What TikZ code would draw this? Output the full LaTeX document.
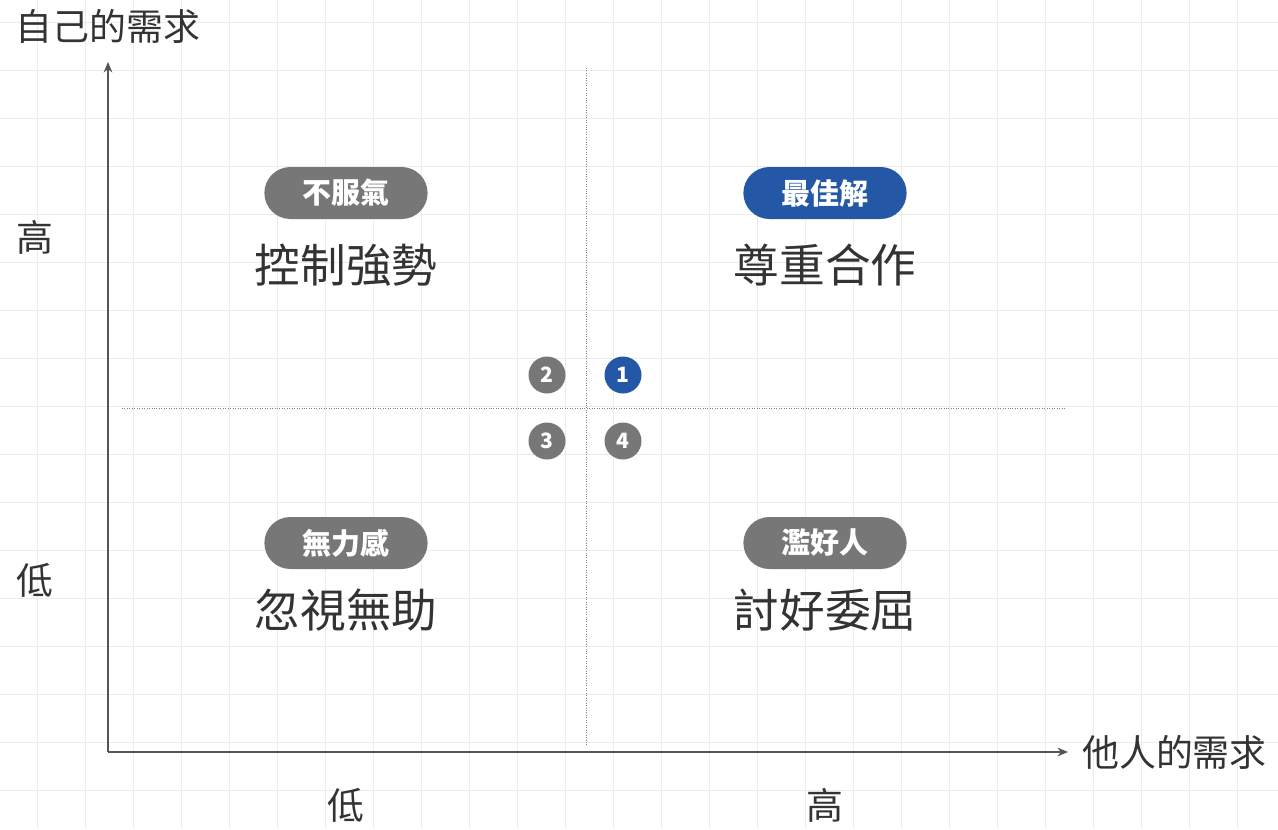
\documentclass[tikz,border=0pt]{standalone}
\usepackage{fontspec}
\setmainfont{Noto Sans CJK TC}
\usetikzlibrary{arrows.meta,shapes.misc}
\definecolor{gridgray}{HTML}{ECECEC}
\definecolor{axisgray}{HTML}{555555}
\definecolor{inkgray}{HTML}{333333}
\definecolor{badgegray}{HTML}{777777}
\definecolor{badgeblue}{HTML}{2457A5}
\tikzset{
  badge/.style={rounded rectangle,fill=badgegray,text=white,minimum width=3.5cm,minimum height=1.04cm,font=\fontsize{16.5}{16.5}\selectfont\bfseries},
  quadtext/.style={text=inkgray,font=\fontsize{26}{26}\selectfont},
  axislabel/.style={text=inkgray,font=\fontsize{21}{21}\selectfont},
  dot/.style={circle,fill=badgegray,text=white,minimum size=0.74cm,inner sep=0pt,font=\fontsize{12}{12}\selectfont\bfseries},
}
\begin{document}
\begin{tikzpicture}[x=0.02cm,y=-0.02cm,>={Stealth[length=6pt,width=5pt]}]
\useasboundingbox[fill=white] (0,0) rectangle (1278,829);

% background grid
\foreach \gx in {37,85,...,1278}
  \draw[gridgray] (\gx,0)--(\gx,829);
\foreach \gy in {22,70,...,829}
  \draw[gridgray] (0,\gy)--(1278,\gy);

% axes
\coordinate (O) at (108,752);
\coordinate (Ytip) at (108,62);
\coordinate (Xtip) at (1068,752);
\draw[->,axisgray,thick] (O)--(Ytip);
\draw[->,axisgray,thick] (O)--(Xtip);

% quadrant dividers
\coordinate (Vtop) at (586,68);
\coordinate (Vbot) at (586,746);
\coordinate (Hleft) at (122,408);
\coordinate (Hright) at (1066,408);
\draw[gray,densely dotted] (Vtop)--(Vbot);
\draw[gray,densely dotted] (Hleft)--(Hright);

% axis labels
\node[axislabel] (selfneed) at (108,26) {自己的需求};
\node[axislabel,anchor=west] (otherneed) at (1076,752) {他人的需求};
\node[axislabel] (yhigh) at (35,237) {高};
\node[axislabel] (ylow) at (35,580) {低};
\node[axislabel] (xlow) at (346,805) {低};
\node[axislabel] (xhigh) at (825,805) {高};

% quadrants
\node[badge] (bq2) at (346,193) {不服氣};
\node[quadtext] (q2) at (346,265) {控制強勢};
\node[badge,fill=badgeblue] (bq1) at (825,193) {最佳解};
\node[quadtext] (q1) at (825,265) {尊重合作};
\node[badge] (bq3) at (346,543) {無力感};
\node[quadtext] (q3) at (346,610) {忽視無助};
\node[badge] (bq4) at (825,543) {濫好人};
\node[quadtext] (q4) at (825,610) {討好委屈};

% numbered dots
\node[dot,fill=badgeblue] (n1) at (623,375) {1};
\node[dot] (n2) at (547,375) {2};
\node[dot] (n3) at (547,441) {3};
\node[dot] (n4) at (623,441) {4};
\end{tikzpicture}
\end{document}
